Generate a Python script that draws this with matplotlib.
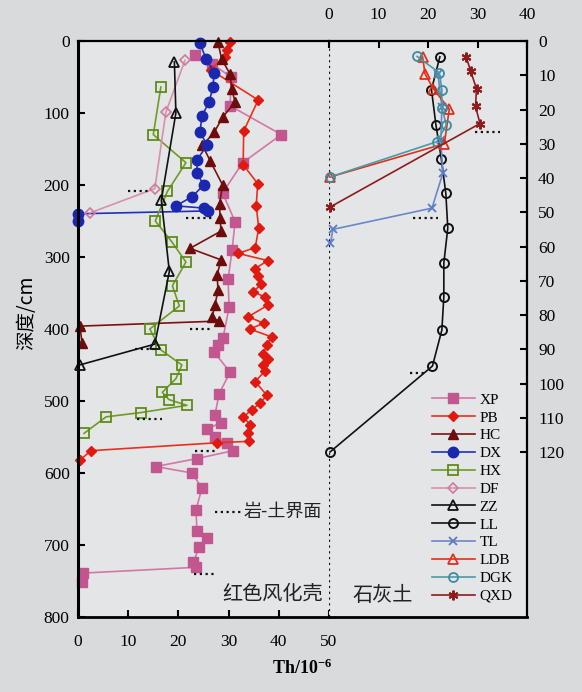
import matplotlib
matplotlib.use("Agg")
import matplotlib.pyplot as plt

plt.rcParams["font.family"] = ["Liberation Serif", "Noto Sans CJK SC", "DejaVu Sans"]
plt.rcParams["mathtext.default"] = "regular"

# red weathering crust profiles: Th (10^-6) against depth (cm)
xp_th = [23.3, 26.7, 30.5, 30.3, 40.5, 32.8, 28.8, 31.3, 30.7, 29.9, 30.1, 28.9, 27.9, 27.1,
         30.3, 28.1, 27.3, 28.5, 25.7, 27.3, 29.6, 30.9, 23.7, 15.5, 22.7, 24.7, 23.5, 23.7,
         25.7, 24.1, 23.0, 23.5, 1.0, 0.8]
xp_depth = [20, 32, 50, 90, 130, 169, 211, 251, 290, 331, 370, 412, 422, 432,
            460, 490, 519, 530, 539, 550, 558, 569, 580, 591, 600, 621, 651, 681,
            690, 703, 724, 731, 739, 752]

pb_th = [30.2, 29.7, 29.2, 26.4, 35.9, 33.0, 32.9, 35.8, 35.5, 36.0, 35.3, 31.9, 37.8, 35.3,
         35.9, 36.5, 34.9, 37.3, 37.8, 33.9, 37.0, 34.2, 38.6, 37.6, 36.9, 37.8, 36.9, 37.3,
         35.3, 37.6, 36.3, 34.7, 32.9, 34.3, 33.9, 34.1, 27.7, 2.6, 0.4]
pb_depth = [2, 12, 22, 40, 82, 125, 172, 198, 229, 260, 287, 295, 305, 316,
            327, 338, 348, 356, 367, 383, 392, 400, 411, 422, 435, 442, 450, 458,
            473, 492, 503, 512, 522, 533, 544, 556, 558, 569, 582]

hc_th = [27.9, 28.6, 30.3, 30.6, 31.3, 28.9, 27.1, 24.8, 26.3, 28.8, 28.2, 28.3, 28.5, 22.3,
         28.5, 27.7, 27.9, 27.3, 26.7, 28.0, 0.4, 0.8]
hc_depth = [2, 25, 46, 66, 85, 105, 127, 145, 166, 200, 226, 246, 264, 288,
            304, 325, 346, 366, 384, 389, 396, 420]

dx_th = [24.3, 25.5, 27.1, 26.9, 26.1, 24.7, 24.3, 25.7, 23.7, 23.7, 25.0, 22.8, 19.5, 25.0,
         25.9, 0.0, 0.0]
dx_depth = [3, 25, 44, 64, 85, 104, 126, 145, 165, 183, 200, 216, 229, 232,
            236, 240, 250]

hx_th = [16.5, 15.0, 21.5, 17.8, 15.4, 18.7, 21.5, 18.8, 20.2, 14.3, 16.5, 20.7, 19.5, 16.8,
         18.1, 21.7, 12.6, 5.6, 1.2]
hx_depth = [64, 130, 169, 209, 250, 279, 307, 340, 368, 400, 429, 450, 469, 488,
            498, 506, 516, 522, 545]

df_th = [21.3, 17.5, 15.3, 2.3]
df_depth = [27, 99, 205, 239]

zz_th = [19.2, 19.5, 16.6, 18.2, 15.3, 0.3]
zz_depth = [29, 100, 221, 320, 421, 450]

# limestone soil profiles
ll_th = [22.4, 20.7, 21.6, 22.7, 23.6, 24.0, 23.2, 23.2, 22.8, 20.9, 0.2]
ll_depth = [4.6, 14.2, 24.5, 34.5, 44.5, 54.6, 64.8, 74.7, 84.4, 94.9, 120]

tl_th = [22.0, 22.8, 22.6, 23.0, 20.8, 0.8, 0.3]
tl_depth = [9.5, 19.2, 29, 38.6, 48.8, 55, 59]

ldb_th = [18.9, 19.4, 21.1, 24.3, 23.3, 0.2]
ldb_depth = [4.6, 9.6, 14, 19.9, 30, 39.7]

dgk_th = [17.8, 22.3, 22.8, 22.8, 23.7, 21.8, 0.2]
dgk_depth = [4.5, 9.3, 14.3, 19.5, 24.5, 29.4, 39.7]

qxd_th = [27.7, 28.6, 29.8, 29.6, 30.5, 0.2]
qxd_depth = [4.6, 8.7, 14, 19.1, 24.1, 48.5]

# rock-soil interface marks: (Th from, Th to, depth)
crust_iface_x0 = [10.0, 21.5, 22.3, 11.4, 11.7, 23.3, 23.1]
crust_iface_x1 = [14.0, 26.7, 26.9, 15.7, 16.7, 27.7, 27.7]
crust_iface_depth = [209, 246, 400, 428, 525, 569, 740]

soil_iface_x0 = [29.4, 16.9, 16.3]
soil_iface_x1 = [34.5, 22.0, 19.8]
soil_iface_depth = [26.6, 51.7, 97]

crust = [
    ("XP", xp_th, xp_depth, dict(color="#d377a6", mfc="#c2568f", mec="#c2568f", marker="s", ms=7)),
    ("PB", pb_th, pb_depth, dict(color="#e8301c", mfc="#e01a10", mec="#e01a10", marker="D", ms=5.5)),
    ("HC", hc_th, hc_depth, dict(color="#7a1212", mfc="#6e0c0c", mec="#6e0c0c", marker="^", ms=7)),
    ("DX", dx_th, dx_depth, dict(color="#2030b8", mfc="#1a28b0", mec="#1a28b0", marker="o", ms=7.5)),
    ("HX", hx_th, hx_depth, dict(color="#6f9a24", mfc="none", mec="#5e8c18", marker="s", ms=7, mew=1.3)),
    ("DF", df_th, df_depth, dict(color="#d890ae", mfc="none", mec="#d07a9e", marker="D", ms=5.5, mew=1.2)),
    ("ZZ", zz_th, zz_depth, dict(color="#111111", mfc="none", mec="#111111", marker="^", ms=7, mew=1.3)),
]
soil = [
    ("LL", ll_th, ll_depth, dict(color="#111111", mfc="none", mec="#111111", marker="o", ms=6.5, mew=1.4)),
    ("TL", tl_th, tl_depth, dict(color="#6a88c8", mfc="none", mec="#5a7cc4", marker="x", ms=6, mew=1.3)),
    ("LDB", ldb_th, ldb_depth, dict(color="#e0301c", mfc="none", mec="#e0301c", marker="^", ms=6.5, mew=1.3)),
    ("DGK", dgk_th, dgk_depth, dict(color="#4c9aa6", mfc="none", mec="#3f8c9a", marker="o", ms=6.5, mew=1.3)),
    ("QXD", qxd_th, qxd_depth, dict(color="#8e1c1c", mfc="#8e1c1c", mec="#8e1c1c", marker=(6, 2, 0), ms=7, mew=1.5)),
]

W, H = 582, 692
fig = plt.figure(figsize=(W / 100, H / 100), dpi=100, facecolor="#d9dadc")
x_left, x_mid, x_right = 78, 329, 527
y_top, y_bot = 41, 617
ax1 = fig.add_axes([x_left / W, 1 - y_bot / H, (x_mid - x_left) / W, (y_bot - y_top) / H])
ax2 = fig.add_axes([x_mid / W, 1 - y_bot / H, (x_right - x_mid) / W, (y_bot - y_top) / H])
for ax in (ax1, ax2):
    ax.set_facecolor("#e4e5e7")

handles = []
for name, th, depth, st in crust:
    ln, = ax1.plot(th, depth, lw=1.2, clip_on=False, label=name, **st)
    handles.append(ln)
for name, th, depth, st in soil:
    ln, = ax2.plot(th, depth, lw=1.2, clip_on=False, label=name, **st)
    handles.append(ln)

dot = dict(color="#111111", lw=1.6, ls=(0, (1, 1.6)))
for a, b, d in zip(crust_iface_x0, crust_iface_x1, crust_iface_depth):
    ax1.plot([a, b], [d, d], **dot)
for a, b, d in zip(soil_iface_x0, soil_iface_x1, soil_iface_depth):
    ax2.plot([a, b], [d, d], **dot)

# left panel axes
ax1.set_xlim(0, 50)
ax1.set_ylim(800, 0)
ax1.set_xticks(range(0, 51, 10))
ax1.set_yticks(range(0, 801, 100))
ax1.tick_params(axis="x", direction="in", length=5, width=1.5, pad=12, labelsize=12.5)
ax1.tick_params(axis="y", direction="in", length=5, width=1.5, pad=6, labelsize=12.5)
ax1.spines["right"].set_visible(False)
ax1.spines["left"].set_linewidth(2.2)
ax1.spines["bottom"].set_linewidth(2.0)
ax1.spines["top"].set_linewidth(1.6)
ax1.set_ylabel("深度/cm", fontsize=14, family=["Noto Sans CJK SC"])
ax1.yaxis.set_label_coords(-0.163, 0.528)

# right panel axes
ax2.set_xlim(0, 40)
ax2.set_ylim((y_bot - y_top) / 3.425, 0)
ax2.set_xticks(range(0, 41, 10))
ax2.set_yticks(range(0, 121, 10))
ax2.xaxis.tick_top()
ax2.yaxis.tick_right()
ax2.tick_params(axis="x", direction="in", length=5, width=1.5, pad=13, labelsize=12.5)
ax2.tick_params(axis="y", direction="in", length=5, width=1.5, pad=8, labelsize=12.5)
ax2.spines["left"].set_visible(False)
ax2.spines["right"].set_linewidth(1.6)
ax2.spines["top"].set_linewidth(1.6)
ax2.spines["bottom"].set_linewidth(2.0)
ax2.axvline(0, color="#111111", lw=1.6, ls=(0, (1, 1.6)), zorder=1)

# annotations
ax1.plot([27.3, 32.6], [654, 654], **dot)
ax1.text(33.0, 654, "岩-土界面", fontsize=13, va="center", ha="left", color="#222222",
         family=["Noto Sans CJK SC"])
ax1.text(48.8, 769, "红色风化壳", fontsize=14.5, va="center", ha="right", color="#222222",
         family=["Noto Sans CJK SC"])
ax2.text(4.8, 161.8, "石灰土", fontsize=14.5, va="center", ha="left", color="#222222",
         family=["Noto Sans CJK SC"])

fig.text(302 / W, 1 - 668 / H, "Th/10$^{-6}$", fontsize=13, weight="bold", ha="center", va="center")

fig.legend(handles=handles, loc="center left", bbox_to_anchor=(432 / W, 1 - 498 / H),
           frameon=False, fontsize=11, handlelength=2.8, handletextpad=0.3,
           labelspacing=0.27, borderpad=0, borderaxespad=0)

fig.savefig("out.png", dpi=100, facecolor=fig.get_facecolor())
